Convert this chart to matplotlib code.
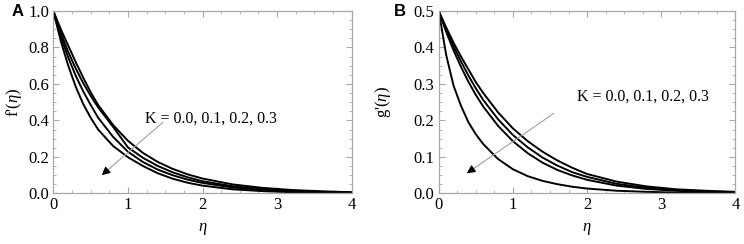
import matplotlib
matplotlib.use("Agg")
import matplotlib.pyplot as plt
from matplotlib.ticker import MultipleLocator

plt.rcParams['font.family'] = ['Liberation Serif', 'DejaVu Serif']
plt.rcParams['mathtext.fontset'] = 'custom'
plt.rcParams['mathtext.rm'] = 'Liberation Serif'
plt.rcParams['mathtext.it'] = 'Liberation Serif:italic'

# values
eta = [0, 0.1, 0.2, 0.3, 0.4, 0.5, 0.6, 0.8, 1.0, 1.2, 1.4, 1.6, 1.8, 2.0,
       2.4, 2.8, 3.2, 3.6, 4.0]

f_k0 = [1.0, 0.90, 0.81, 0.72, 0.635, 0.555, 0.485, 0.375, 0.288, 0.222,
        0.172, 0.134, 0.104, 0.081, 0.049, 0.030, 0.018, 0.011, 0.006]
f_k1 = [1.0, 0.88, 0.775, 0.685, 0.605, 0.535, 0.472, 0.365, 0.252, 0.195,
        0.150, 0.115, 0.088, 0.066, 0.039, 0.023, 0.013, 0.008, 0.004]
f_k2 = [1.0, 0.86, 0.745, 0.645, 0.56, 0.485, 0.415, 0.31, 0.228, 0.172,
        0.130, 0.099, 0.075, 0.057, 0.032, 0.018, 0.010, 0.006, 0.003]
f_k3 = [1.0, 0.835, 0.70, 0.585, 0.49, 0.415, 0.35, 0.26, 0.198, 0.150,
        0.110, 0.080, 0.058, 0.042, 0.022, 0.012, 0.006, 0.003, 0.002]

g_k0 = [0.5, 0.455, 0.413, 0.375, 0.34, 0.305, 0.275, 0.222, 0.178, 0.143,
        0.114, 0.090, 0.070, 0.053, 0.032, 0.019, 0.011, 0.007, 0.004]
g_k1 = [0.5, 0.449, 0.403, 0.362, 0.323, 0.288, 0.256, 0.203, 0.160, 0.126,
        0.098, 0.076, 0.058, 0.045, 0.026, 0.015, 0.009, 0.005, 0.003]
g_k2 = [0.5, 0.443, 0.392, 0.347, 0.306, 0.27, 0.238, 0.185, 0.143, 0.110,
        0.084, 0.064, 0.049, 0.037, 0.021, 0.012, 0.007, 0.004, 0.002]
g_k3 = [0.5, 0.38, 0.295, 0.24, 0.195, 0.162, 0.135, 0.094, 0.066, 0.047,
        0.034, 0.025, 0.018, 0.013, 0.007, 0.004, 0.002, 0.001, 0.0005]

k_label = "K = 0.0, 0.1, 0.2, 0.3"

frame_col = '#a8a8a8'


def style_axes(ax, ymax, ymajor, yminor):
    ax.set_xlim(0, 4)
    ax.set_ylim(0, ymax)
    ax.xaxis.set_major_locator(MultipleLocator(1))
    ax.xaxis.set_minor_locator(MultipleLocator(0.25))
    ax.yaxis.set_major_locator(MultipleLocator(ymajor))
    ax.yaxis.set_minor_locator(MultipleLocator(yminor))
    ax.yaxis.set_major_formatter(matplotlib.ticker.FormatStrFormatter('%.1f'))
    ax.tick_params(which='both', direction='in', top=True, right=True,
                   color=frame_col, labelsize=12, labelcolor='black')
    ax.tick_params(which='major', length=4, width=0.8, pad=3)
    ax.tick_params(which='minor', length=2, width=0.6)
    for s in ax.spines.values():
        s.set_color(frame_col)
        s.set_linewidth(0.9)


fig = plt.figure(figsize=(7.44, 2.44), dpi=100)
ax1 = fig.add_axes([0.0717, 0.2078, 0.401, 0.747])
ax2 = fig.add_axes([0.5897, 0.2078, 0.3987, 0.747])

for y in (f_k0, f_k1, f_k2, f_k3):
    ax1.plot(eta, y, color='black', lw=1.4)
for y in (g_k0, g_k1, g_k2, g_k3):
    ax2.plot(eta, y, color='black', lw=1.4)

style_axes(ax1, 1.0, 0.2, 0.05)
style_axes(ax2, 0.5, 0.1, 0.025)

ax1.set_ylabel(r"f'($\eta$)", fontsize=12)
ax2.set_ylabel(r"g'($\eta$)", fontsize=12)
ax1.yaxis.set_label_coords(-0.098, 0.5)
ax2.yaxis.set_label_coords(-0.155, 0.5)
for ax in (ax1, ax2):
    ax.set_xlabel(r"$\eta$", fontsize=12)
    ax.xaxis.set_label_coords(0.5, -0.15)

arrow = dict(arrowstyle='-|>', color='#a0a0a0', lw=0.8, mutation_scale=12,
             shrinkA=0, shrinkB=0)
ax1.annotate('', xy=(0.65, 0.10), xytext=(1.47, 0.39), arrowprops=arrow)
ax1.text(1.23, 0.41, k_label, fontsize=11.5, va='center', ha='left')
ax2.annotate('', xy=(0.38, 0.055), xytext=(1.55, 0.219), arrowprops=arrow)
ax2.text(1.86, 0.265, k_label, fontsize=11.5, va='center', ha='left')

# black arrow heads over the gray shafts
head = dict(arrowstyle='-|>', color='black', lw=0.8, mutation_scale=12,
            shrinkA=0, shrinkB=0)
ax1.annotate('', xy=(0.65, 0.10), xytext=(0.72, 0.125), arrowprops=head)
ax2.annotate('', xy=(0.38, 0.055), xytext=(0.45, 0.065), arrowprops=head)

fig.text(12 / 744, 1 - 12 / 244, 'A', fontsize=12, fontweight='bold',
         family='Liberation Sans', va='center', ha='left')
fig.text(394 / 744, 1 - 12 / 244, 'B', fontsize=12, fontweight='bold',
         family='Liberation Sans', va='center', ha='left')

fig.savefig('out.png', dpi=100)
